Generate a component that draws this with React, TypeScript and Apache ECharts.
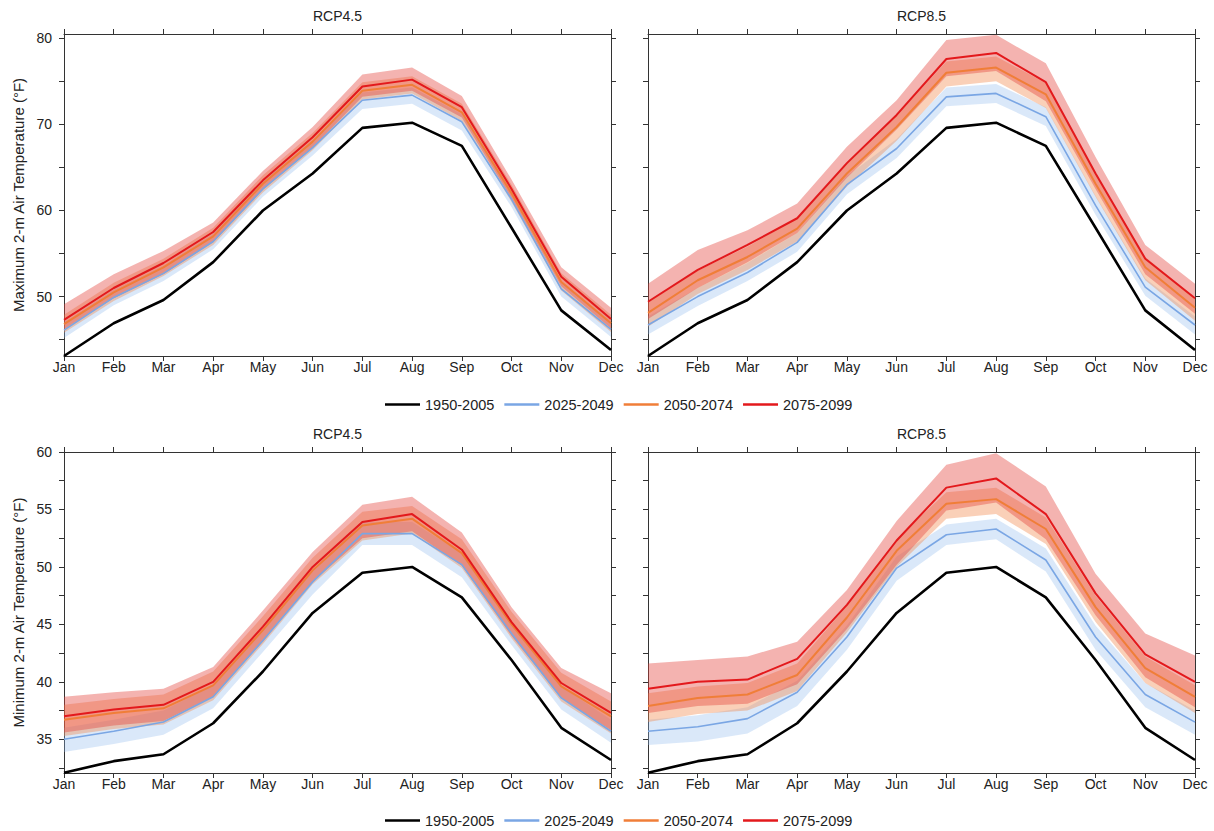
import React, { useEffect, useRef } from "react";
import * as echarts from "echarts";

const months = ["Jan", "Feb", "Mar", "Apr", "May", "Jun", "Jul", "Aug", "Sep", "Oct", "Nov", "Dec"];
const periods = ["1950-2005", "2025-2049", "2050-2074", "2075-2099"];
const panelTitles = ["RCP4.5", "RCP8.5", "RCP4.5", "RCP8.5"];
const yNames = ["Maximum 2-m Air Temperature (°F)", "Minimum 2-m Air Temperature (°F)"];

const maxTicks = [45, 50, 55, 60, 65, 70, 75, 80];
const maxLabels = [50, 60, 70, 80];
const minTicks = [32.5, 35, 37.5, 40, 42.5, 45, 47.5, 50, 52.5, 55, 57.5, 60];
const minLabels = [35, 40, 45, 50, 55, 60];

// Historical (1950-2005)
const histMax = [43.1, 46.9, 49.6, 54.0, 60.0, 64.3, 69.6, 70.2, 67.5, 58.0, 48.4, 43.8];
const histMin = [32.1, 33.1, 33.7, 36.4, 40.9, 46.0, 49.5, 50.0, 47.35, 41.9, 36.0, 33.2];

// Maximum temperature, RCP4.5
const max45_2025 = [46.1, 49.9, 52.7, 56.4, 62.5, 67.3, 72.8, 73.4, 70.3, 61.3, 50.9, 46.2];
const max45_2025_lo = [45.2, 49.0, 51.8, 55.5, 61.6, 66.4, 71.8, 72.4, 69.3, 60.4, 50.0, 45.3];
const max45_2025_hi = [47.0, 50.8, 53.6, 57.3, 63.4, 68.2, 73.7, 74.3, 71.2, 62.2, 51.8, 47.1];
const max45_2050 = [46.8, 50.5, 53.4, 57.0, 63.1, 68.0, 73.9, 74.6, 71.4, 62.0, 51.7, 46.9];
const max45_2050_lo = [45.8, 49.5, 52.4, 56.0, 62.1, 67.0, 72.9, 73.6, 70.4, 61.0, 50.7, 45.9];
const max45_2050_hi = [47.9, 51.6, 54.4, 58.0, 64.1, 69.0, 74.9, 75.6, 72.4, 63.0, 52.7, 47.9];
const max45_2075 = [47.3, 51.0, 53.9, 57.5, 63.5, 68.5, 74.4, 75.2, 72.0, 62.5, 52.3, 47.4];
const max45_2075_lo = [46.2, 49.8, 52.6, 56.3, 62.4, 67.3, 73.2, 73.9, 70.8, 61.4, 51.2, 46.3];
const max45_2075_hi = [49.1, 52.6, 55.3, 58.6, 64.6, 69.7, 75.8, 76.6, 73.3, 63.6, 53.4, 48.7];

// Maximum temperature, RCP8.5
const max85_2025 = [46.7, 50.0, 52.8, 56.3, 63.0, 67.2, 73.2, 73.6, 70.9, 60.6, 51.1, 46.7];
const max85_2025_lo = [45.6, 48.9, 51.8, 55.2, 61.9, 66.1, 72.1, 72.5, 69.8, 59.5, 50.1, 45.6];
const max85_2025_hi = [47.7, 51.0, 53.9, 57.4, 64.0, 68.3, 74.3, 74.7, 72.0, 61.7, 52.1, 47.7];
const max85_2050 = [48.1, 51.9, 54.6, 57.9, 64.3, 69.7, 76.0, 76.6, 73.5, 63.1, 53.4, 48.7];
const max85_2050_lo = [46.5, 50.3, 53.1, 56.4, 62.8, 68.1, 74.4, 75.0, 71.9, 61.6, 51.9, 47.2];
const max85_2050_hi = [49.3, 53.0, 55.8, 59.1, 65.5, 71.0, 77.3, 77.9, 74.8, 64.3, 54.6, 49.9];
const max85_2075 = [49.4, 53.1, 56.0, 59.1, 65.5, 71.1, 77.6, 78.3, 74.9, 64.3, 54.4, 49.8];
const max85_2075_lo = [47.4, 51.0, 54.0, 57.4, 63.8, 69.4, 75.6, 76.2, 72.7, 62.5, 52.6, 48.0];
const max85_2075_hi = [51.5, 55.4, 57.7, 60.8, 67.4, 72.8, 79.8, 80.4, 77.1, 66.2, 56.0, 51.5];

// Minimum temperature, RCP4.5
const min45_2025 = [35.0, 35.7, 36.5, 38.7, 43.6, 48.7, 52.9, 52.9, 50.2, 44.2, 38.6, 35.7];
const min45_2025_lo = [33.9, 34.6, 35.4, 37.7, 42.6, 47.6, 51.9, 51.9, 49.1, 43.2, 37.6, 34.7];
const min45_2025_hi = [36.0, 36.7, 37.5, 39.7, 44.6, 49.7, 53.9, 53.9, 51.2, 45.2, 39.6, 36.7];
const min45_2050 = [36.7, 37.3, 37.7, 39.7, 44.5, 49.7, 53.6, 54.2, 51.2, 45.0, 39.6, 37.0];
const min45_2050_lo = [35.3, 35.9, 36.3, 38.4, 43.3, 48.5, 52.3, 52.9, 49.9, 43.8, 38.3, 35.5];
const min45_2050_hi = [38.0, 38.5, 38.9, 40.9, 45.7, 50.8, 54.8, 55.3, 52.4, 46.1, 40.8, 38.3];
const min45_2075 = [37.0, 37.6, 38.0, 40.0, 44.8, 50.0, 53.9, 54.6, 51.5, 45.2, 39.9, 37.3];
const min45_2075_lo = [35.6, 36.2, 36.6, 38.7, 43.5, 48.7, 52.5, 53.1, 50.1, 44.0, 38.6, 35.8];
const min45_2075_hi = [38.7, 39.1, 39.4, 41.3, 46.2, 51.3, 55.4, 56.1, 53.0, 46.5, 41.2, 39.0];

// Minimum temperature, RCP8.5
const min85_2025 = [35.7, 36.1, 36.8, 39.1, 43.9, 49.9, 52.8, 53.3, 50.6, 43.9, 38.9, 36.5];
const min85_2025_lo = [34.5, 34.8, 35.5, 37.9, 42.8, 48.8, 51.9, 52.4, 49.6, 42.8, 37.8, 35.4];
const min85_2025_hi = [36.7, 37.1, 37.8, 40.1, 44.9, 50.9, 53.7, 54.2, 51.6, 44.9, 39.9, 37.5];
const min85_2050 = [37.9, 38.6, 38.9, 40.6, 45.6, 51.4, 55.5, 55.9, 53.3, 46.5, 41.2, 38.7];
const min85_2050_lo = [36.5, 37.2, 37.5, 39.2, 44.3, 50.0, 54.2, 54.6, 52.0, 45.2, 39.9, 37.3];
const min85_2050_hi = [39.0, 39.6, 39.9, 41.6, 46.6, 52.4, 56.5, 56.9, 54.3, 47.5, 42.2, 39.7];
const min85_2075 = [39.4, 40.0, 40.2, 42.0, 46.7, 52.3, 56.9, 57.7, 54.6, 47.7, 42.4, 40.0];
const min85_2075_lo = [37.3, 37.9, 38.1, 39.8, 44.6, 50.2, 54.9, 55.6, 52.4, 45.8, 40.4, 37.8];
const min85_2075_hi = [41.6, 41.9, 42.2, 43.5, 48.0, 54.0, 58.9, 59.9, 57.0, 49.4, 44.2, 42.3];

const lineColors = ["#000000", "#7aa6e4", "#f07e38", "#e3191c"];
const bandColors = ["rgba(140,182,235,0.32)", "rgba(243,138,78,0.40)", "rgba(228,64,58,0.40)"];
const lineWidths = [2.6, 1.6, 2, 2];

const FONT = "'Liberation Sans', Arial, Helvetica, sans-serif";
const TXT = "#222";

type Panel = {
  grid: { left: number; top: number; width: number; height: number };
  min: number;
  max: number;
  ticks: number[];
  labels: number[];
  showLabels: boolean;
  yName: string;
  hist: number[];
  lines: number[][];
  lows: number[][];
  highs: number[][];
};

const panels: Panel[] = [
  {
    grid: { left: 64, top: 34, width: 547, height: 322 },
    min: 43.1, max: 80.5, ticks: maxTicks, labels: maxLabels, showLabels: true, yName: yNames[0],
    hist: histMax,
    lines: [max45_2025, max45_2050, max45_2075],
    lows: [max45_2025_lo, max45_2050_lo, max45_2075_lo],
    highs: [max45_2025_hi, max45_2050_hi, max45_2075_hi],
  },
  {
    grid: { left: 648, top: 34, width: 547, height: 322 },
    min: 43.1, max: 80.5, ticks: maxTicks, labels: maxLabels, showLabels: false, yName: "",
    hist: histMax,
    lines: [max85_2025, max85_2050, max85_2075],
    lows: [max85_2025_lo, max85_2050_lo, max85_2075_lo],
    highs: [max85_2025_hi, max85_2050_hi, max85_2075_hi],
  },
  {
    grid: { left: 64, top: 452, width: 547, height: 321 },
    min: 32.07, max: 60, ticks: minTicks, labels: minLabels, showLabels: true, yName: yNames[1],
    hist: histMin,
    lines: [min45_2025, min45_2050, min45_2075],
    lows: [min45_2025_lo, min45_2050_lo, min45_2075_lo],
    highs: [min45_2025_hi, min45_2050_hi, min45_2075_hi],
  },
  {
    grid: { left: 648, top: 452, width: 547, height: 321 },
    min: 32.07, max: 60, ticks: minTicks, labels: minLabels, showLabels: false, yName: "",
    hist: histMin,
    lines: [min85_2025, min85_2050, min85_2075],
    lows: [min85_2025_lo, min85_2050_lo, min85_2075_lo],
    highs: [min85_2025_hi, min85_2050_hi, min85_2075_hi],
  },
];

function buildOption() {
  const axisLine = { show: true, lineStyle: { color: "#333", width: 1 } };
  const grids: any[] = [];
  const xAxes: any[] = [];
  const yAxes: any[] = [];
  const series: any[] = [];
  const graphics: any[] = [];

  panels.forEach((p, i) => {
    grids.push({ ...p.grid, containLabel: false });
    xAxes.push({
      type: "category", gridIndex: i, data: months, boundaryGap: false, position: "bottom",
      axisLine, axisTick: { show: true, length: 5, lineStyle: { color: "#333" } },
      axisLabel: { show: true, margin: 4, fontSize: 14, color: TXT, fontFamily: FONT, interval: 0 },
      splitLine: { show: false },
    });
    xAxes.push({
      type: "category", gridIndex: i, data: months, boundaryGap: false, position: "top",
      axisLine, axisTick: { show: true, length: 5, lineStyle: { color: "#333" } },
      axisLabel: { show: false }, splitLine: { show: false },
    });
    yAxes.push({
      type: "value", gridIndex: i, min: p.min, max: p.max, position: "left",
      axisLine, axisTick: { show: true, length: 5, customValues: p.ticks, lineStyle: { color: "#333" } },
      axisLabel: { show: p.showLabels, customValues: p.labels, margin: 12, fontSize: 14, color: TXT, fontFamily: FONT },
      splitLine: { show: false },
      name: p.yName, nameLocation: "middle", nameRotate: 90, nameGap: 38,
      nameTextStyle: { fontSize: 15, color: TXT, fontFamily: FONT },
    });
    yAxes.push({
      type: "value", gridIndex: i, min: p.min, max: p.max, position: "right",
      axisLine, axisTick: { show: true, length: 5, customValues: p.ticks, lineStyle: { color: "#333" } },
      axisLabel: { show: false }, splitLine: { show: false },
    });

    const xi = 2 * i;
    const yi = 2 * i;
    for (let k = 0; k < 3; k++) {
      const stack = `band-${i}-${k}`;
      series.push({
        type: "line", name: `band-lo-${i}-${k}`, xAxisIndex: xi, yAxisIndex: yi, stack,
        data: p.lows[k], symbol: "none", silent: true, lineStyle: { opacity: 0, width: 0 },
        z: 1,
      });
      series.push({
        type: "line", name: `band-hi-${i}-${k}`, xAxisIndex: xi, yAxisIndex: yi, stack,
        data: p.highs[k].map((h, j) => +(h - p.lows[k][j]).toFixed(3)),
        symbol: "none", silent: true, lineStyle: { opacity: 0, width: 0 },
        areaStyle: { color: bandColors[k], opacity: 1 },
        z: 1,
      });
    }
    const lineData = [p.hist, ...p.lines];
    lineData.forEach((d, k) => {
      series.push({
        type: "line", name: periods[k], xAxisIndex: xi, yAxisIndex: yi, data: d,
        symbol: "none", lineStyle: { color: lineColors[k], width: lineWidths[k] },
        itemStyle: { color: lineColors[k] }, z: 3 + k,
      });
    });

    graphics.push({
      type: "text",
      x: p.grid.left + p.grid.width / 2,
      y: p.grid.top - 18,
      style: {
        text: panelTitles[i], fill: TXT, font: `14px ${FONT}`,
        align: "center", verticalAlign: "middle",
      },
    });
  });

  const legendData = periods.map((n, k) => ({ name: n, icon: "rect", itemStyle: { color: lineColors[k] } }));
  const legendBase = {
    data: legendData, orient: "horizontal", left: 385, padding: 0, itemWidth: 35, itemHeight: 2.5, itemGap: 10,
    textStyle: { fontSize: 14.5, color: TXT, fontFamily: FONT }, selectedMode: false,
  };

  return {
    animation: false,
    backgroundColor: "#ffffff",
    grid: grids,
    xAxis: xAxes,
    yAxis: yAxes,
    series,
    legend: [
      { ...legendBase, top: 397 },
      { ...legendBase, top: 813 },
    ],
    graphic: graphics,
  };
}

export default function App() {
  const ref = useRef<HTMLDivElement>(null);
  useEffect(() => {
    if (!ref.current) return;
    const chart = echarts.init(ref.current, undefined, { renderer: "svg" });
    chart.setOption(buildOption() as any);
    return () => chart.dispose();
  }, []);
  return (
    <div
      ref={ref}
      style={{ position: "fixed", left: 0, top: 0, width: 1214, height: 831, background: "#fff" }}
    />
  );
}
